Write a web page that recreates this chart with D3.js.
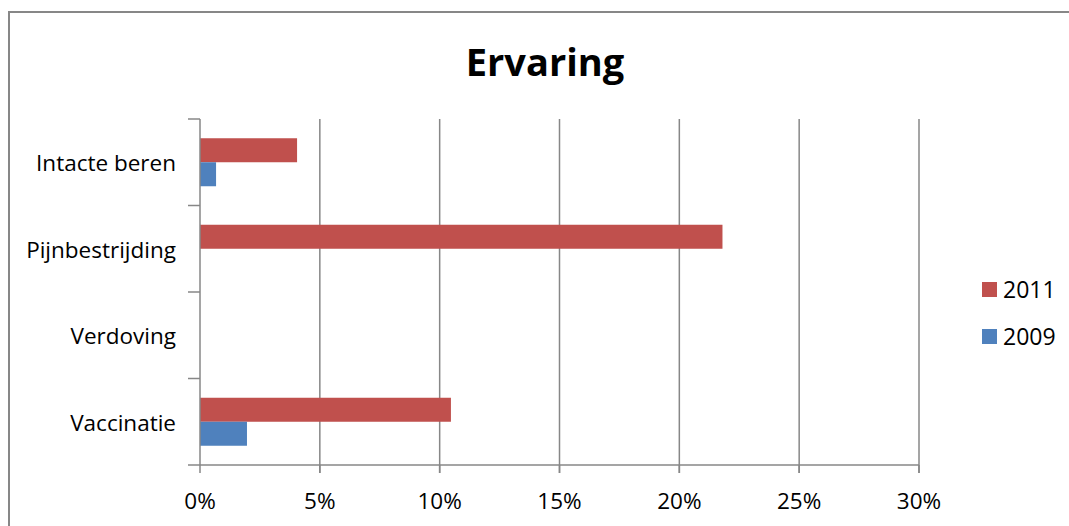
<!DOCTYPE html>
<html><head><meta charset="utf-8">
<script src="https://cdn.jsdelivr.net/npm/d3@7"></script>
<style>body{margin:0;background:#fff;} text{font-family:"Open Sans",Lato,sans-serif;}</style>
</head><body><svg id="c" width="1069" height="526"></svg>
<script>
const categories = ["Intacte beren","Pijnbestrijding","Verdoving","Vaccinatie"];
const series = ["2011","2009"];
const values2011 = [4.05, 21.8, 0, 10.47];
const values2009 = [0.67, 0, 0, 1.96];
const xTicks = [0,5,10,15,20,25,30];
const colors = {"2011":"#C0504D","2009":"#4F81BD"};

const svg = d3.select("#c");
svg.append("rect").attr("x",9).attr("y",12).attr("width",1200).attr("height",600)
  .attr("fill","#fff").attr("stroke","#878787").attr("stroke-width",2);

const L=200,R=919,T=119,B=465;
const x = d3.scaleLinear().domain([0,30]).range([L,R]);
const y = d3.scaleBand().domain(categories).range([T,B]);
const inner = d3.scaleBand().domain(series).range([0,48]);
const off = (y.bandwidth()-48)/2;

svg.append("g").selectAll("line").data(xTicks.slice(1)).join("line")
  .attr("x1",d=>x(d)).attr("x2",d=>x(d)).attr("y1",T).attr("y2",B+8)
  .attr("stroke","#878787").attr("stroke-width",1.5);

const data = [];
categories.forEach((c,i)=>{
  data.push({c,s:"2011",v:values2011[i]});
  data.push({c,s:"2009",v:values2009[i]});
});
svg.append("g").selectAll("rect").data(data.filter(d=>d.v>0)).join("rect")
  .attr("x",x(0)).attr("y",d=>y(d.c)+off+inner(d.s))
  .attr("width",d=>x(d.v)-x(0)).attr("height",inner.bandwidth())
  .attr("fill",d=>colors[d.s]);

const ya = svg.append("g");
ya.append("line").attr("x1",L).attr("x2",L).attr("y1",T).attr("y2",B).attr("stroke","#878787").attr("stroke-width",1.5);
const yt = [T,...categories.map(c=>y(c)+y.bandwidth())];
ya.selectAll("line.t").data(yt).join("line").attr("class","t")
  .attr("x1",L-12).attr("x2",L).attr("y1",d=>d).attr("y2",d=>d).attr("stroke","#878787").attr("stroke-width",1.5);
ya.selectAll("text").data(categories).join("text")
  .attr("x",176).attr("y",d=>y(d)+y.bandwidth()/2+9).attr("text-anchor","end")
  .attr("font-size",22.5).attr("fill","#000").text(d=>d);

const xa = svg.append("g");
xa.append("line").attr("x1",L).attr("x2",R).attr("y1",B).attr("y2",B).attr("stroke","#878787").attr("stroke-width",1.5);
xa.selectAll("line.t").data(xTicks).join("line").attr("class","t")
  .attr("x1",d=>x(d)).attr("x2",d=>x(d)).attr("y1",B).attr("y2",B+8).attr("stroke","#878787").attr("stroke-width",1.5);
xa.selectAll("text").data(xTicks).join("text")
  .attr("x",d=>x(d)).attr("y",509).attr("text-anchor","middle")
  .attr("font-size",22.5).attr("fill","#000").text(d=>d+"%");

svg.append("text").attr("x",545).attr("y",76).attr("text-anchor","middle")
  .attr("font-size",38).attr("font-weight","bold").attr("fill","#000").text("Ervaring");

const lg = svg.append("g");
series.forEach((s,i)=>{
  lg.append("rect").attr("x",982).attr("y",282+i*47).attr("width",15).attr("height",15).attr("fill",colors[s]);
  lg.append("text").attr("x",1003).attr("y",298+i*47).attr("font-size",23).attr("fill","#000").text(s);
});
</script></body></html>
